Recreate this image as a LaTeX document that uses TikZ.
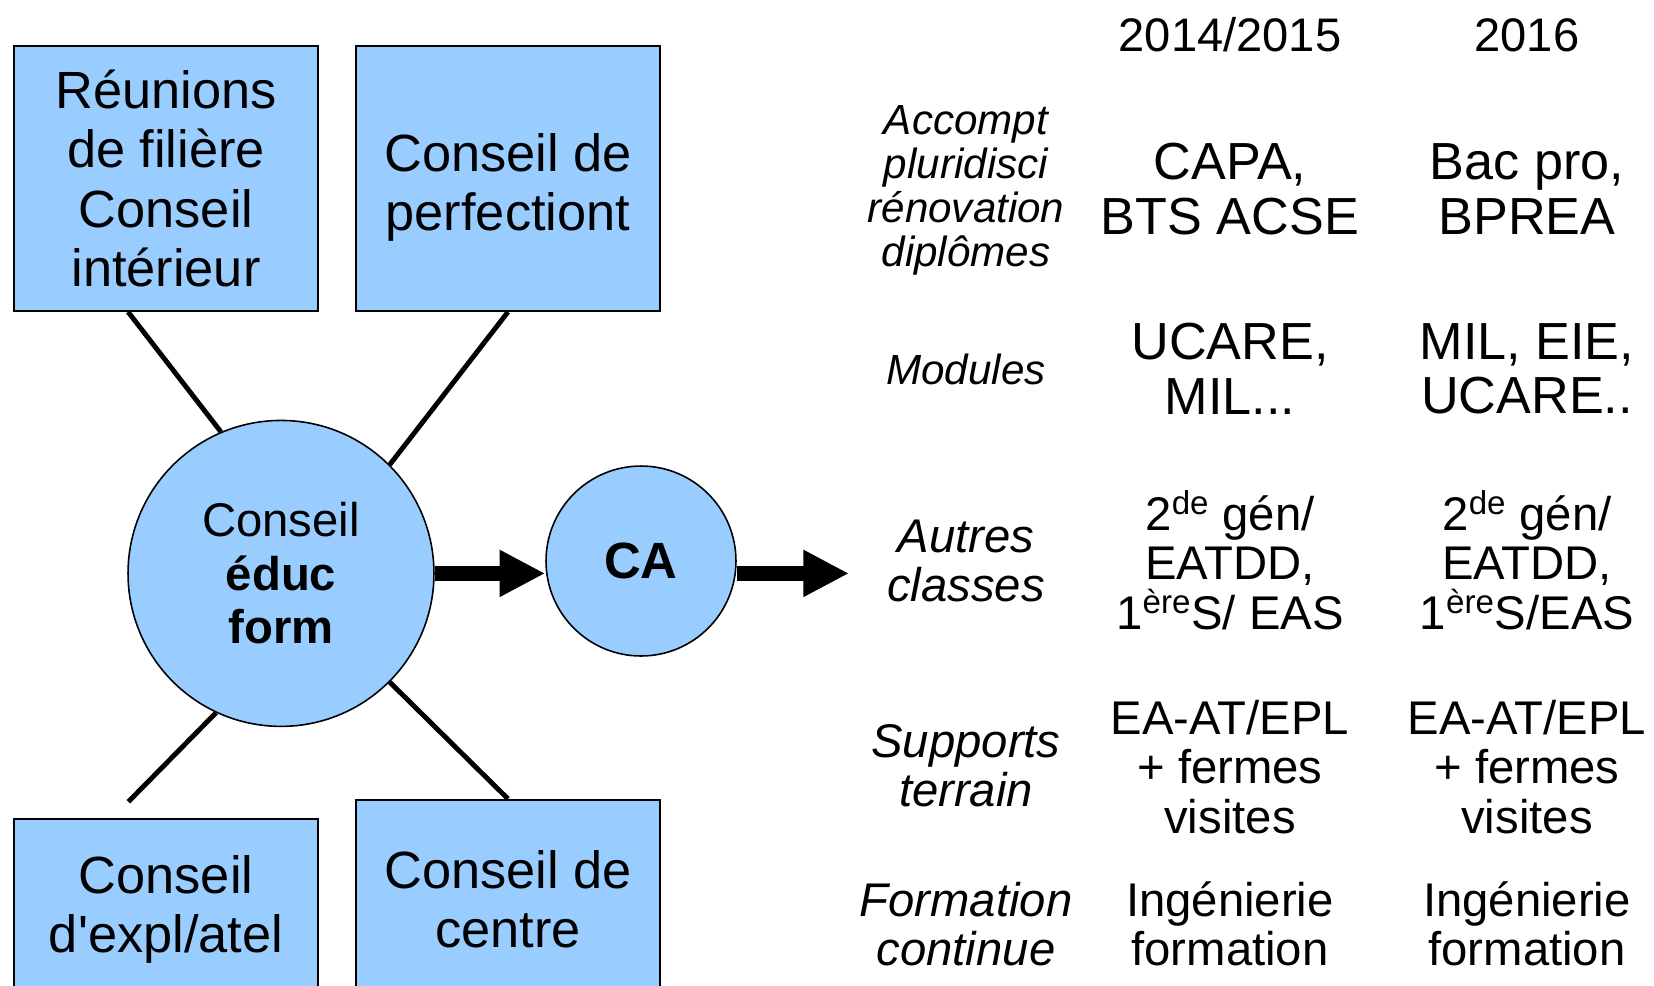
\documentclass[tikz,border=0pt]{standalone}
\usepackage{fontspec}
\setmainfont{Liberation Sans}[Ligatures=TeXOff]
\usetikzlibrary{arrows.meta,calc}
\definecolor{bleu}{HTML}{99CCFF}
\tikzstyle{boite}=[draw, line width=1.1pt, fill=bleu, minimum width=6.08cm, align=center, font=\fontsize{29.8}{33.8}\selectfont]
\tikzstyle{conseil}=[draw, circle, line width=0.9pt, fill=bleu, inner sep=0pt, align=center]
\tikzstyle{lien}=[line width=2.8pt]
\tikzstyle{fleche}=[line width=8.5pt, -{Triangle[length=26pt, width=25pt]}]
\tikzstyle{annee}=[inner sep=0pt, font=\fontsize{26.8}{30}\selectfont]
\tikzstyle{rubrique}=[inner sep=0pt, align=center, font=\itshape\fontsize{26.9}{28.1}\selectfont]
\tikzstyle{case}=[inner sep=0pt, align=center, font=\fontsize{26.9}{28.1}\selectfont]

\begin{document}
\begin{tikzpicture}[x=0.02cm, y=-0.02cm]
        \clip (0,0) rectangle (1654,985);

        % conseils
        \node[boite, minimum height=5.306cm] (reunions) at (166, 178.3) {Réunions\\de filière\\Conseil\\intérieur};
        \node[boite, minimum height=5.306cm, text height=66pt] (perf) at (508, 178.3) {Conseil de\\perfectiont};
        \node[boite, minimum height=3.62cm] (expl) at (166, 909.5) {Conseil\\d'expl/atel};
        \node[boite, minimum height=3.966cm] (centre) at (508, 899) {Conseil de\\centre};
        \node[conseil, minimum size=6.12cm, font=\fontsize{26.9}{30.5}\selectfont] (educ) at (281, 573.4) {Conseil\\\textbf{éduc}\\\textbf{form}};
        \node[conseil, minimum size=3.8cm, font=\bfseries\fontsize{29}{32}\selectfont] (ca) at (641, 561) {CA};
        \coordinate (sortie) at (849, 573.4);
        \coordinate (bout) at (128.4, 801.7);

        % liens
        \draw[lien] ($(reunions.south west)!0.376!(reunions.south east)$) -- (educ.113);
        \draw[lien] (perf.south) -- (educ.45);
        \draw[lien] (bout) -- (educ.245);
        \draw[lien] (centre.north) -- (educ.315);
        \draw[fleche] (educ.east) -- (educ.east -| ca.west);
        \draw[fleche] (ca.east |- educ.east) -- (sortie);

        % tableau
        \node[annee] (an1) at (1230, 35) {2014/2015};
        \node[annee] (an2) at (1527, 35) {2016};

        \node[rubrique, font=\itshape\fontsize{24}{25}\selectfont] (r1) at (966, 190) {Accompt\\pluridisci\\rénovation\\diplômes};
        \node[case, font=\fontsize{29.7}{31}\selectfont] (a1) at (1230, 189) {CAPA,\\BTS ACSE};
        \node[case, font=\fontsize{29.7}{31}\selectfont] (b1) at (1527, 189) {Bac pro,\\BPREA};

        \node[rubrique, font=\itshape\fontsize{24}{25}\selectfont] (r2) at (966, 369) {Modules};
        \node[case, font=\fontsize{29.7}{31}\selectfont] (a2) at (1230, 369) {UCARE,\\MIL...};
        \node[case, font=\fontsize{29.7}{31}\selectfont] (b2) at (1527, 369) {MIL, EIE,\\UCARE..};

        \node[rubrique] (r3) at (966, 561) {Autres\\classes};
        \node[case] (a3) at (1230, 560) {2\textsuperscript{de} gén/\\EATDD,\\1\textsuperscript{ère}S/ EAS};
        \node[case] (b3) at (1527, 560) {2\textsuperscript{de} gén/\\EATDD,\\1\textsuperscript{ère}S/EAS};

        \node[rubrique] (r4) at (966, 766) {Supports\\terrain};
        \node[case] (a4) at (1230, 767) {EA-AT/EPL\\+ fermes\\visites};
        \node[case] (b4) at (1527, 767) {EA-AT/EPL\\+ fermes\\visites};

        \node[rubrique] (r5) at (966, 924) {Formation\\continue};
        \node[case] (a5) at (1230, 924) {Ingénierie\\formation};
        \node[case] (b5) at (1527, 924) {Ingénierie\\formation};
    \end{tikzpicture}
\end{document}
